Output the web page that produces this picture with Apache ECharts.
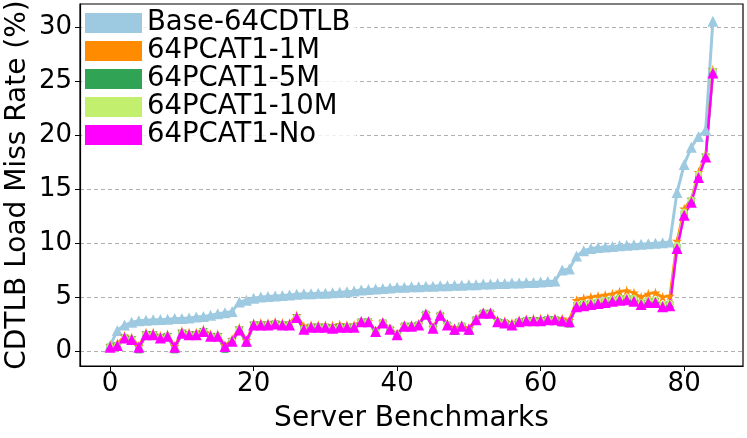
<!DOCTYPE html>
<html>
<head>
    <meta charset="utf-8">
    <title>CDTLB Load Miss Rate</title>
    <script src="https://cdn.jsdelivr.net/npm/echarts@6/dist/echarts.min.js"></script>
    <style>
        html, body { margin: 0; padding: 0; background: #fff; }
        #chart { width: 747px; height: 438px; }
    </style>
</head>
<body>
    <div id="chart"></div>
    <script>
        // series names (legend order)
        const names = ['Base-64CDTLB', '64PCAT1-1M', '64PCAT1-5M', '64PCAT1-10M', '64PCAT1-No'];

        // miss rate (%) per server benchmark, sorted
        const base = [
            0.5, 1.9, 2.4, 2.65, 2.8, 2.85, 2.9, 2.92, 2.95, 3.0,
            3.0, 3.05, 3.15, 3.2, 3.3, 3.45, 3.55, 3.65, 4.55, 4.7,
            4.9, 5.0, 5.05, 5.1, 5.15, 5.2, 5.25, 5.3, 5.3, 5.35,
            5.35, 5.4, 5.45, 5.5, 5.55, 5.65, 5.7, 5.75, 5.8, 5.85,
            5.9, 5.9, 5.95, 5.95, 6.0, 6.0, 6.05, 6.05, 6.1, 6.1,
            6.15, 6.15, 6.2, 6.2, 6.25, 6.25, 6.3, 6.3, 6.35, 6.35,
            6.4, 6.45, 6.5, 7.5, 7.6, 8.8, 9.3, 9.5, 9.6, 9.65,
            9.7, 9.75, 9.8, 9.85, 9.9, 9.95, 10.0, 10.05, 10.1, 14.7,
            17.3, 18.9, 19.9, 20.5, 30.6
        ];
        const pcat1M = [
            0.5, 0.7, 1.4, 1.25, 0.45, 1.7, 1.7, 1.4, 1.55, 0.45,
            1.85, 1.7, 1.7, 2.0, 1.55, 1.55, 0.5, 1.1, 2.15, 1.0,
            2.6, 2.6, 2.6, 2.7, 2.6, 2.6, 3.3, 2.3, 2.4, 2.4,
            2.4, 2.35, 2.45, 2.4, 2.4, 2.8, 2.75, 1.9, 2.7, 2.1,
            1.6, 2.4, 2.4, 2.5, 3.5, 2.2, 3.4, 2.5, 2.1, 2.4,
            2.1, 3.0, 3.6, 3.6, 2.85, 2.75, 2.6, 2.85, 2.95, 3.0,
            3.0, 3.05, 3.05, 3.0, 2.85, 4.7, 4.9, 5.0, 5.1, 5.2,
            5.3, 5.5, 5.6, 5.4, 5.0, 5.3, 5.4, 5.0, 5.1, 10.2,
            13.2, 14.1, 16.6, 18.2, 26.1
        ];
        const pcat5M = [
            0.35, 0.5, 1.2, 1.05, 0.1, 1.5, 1.5, 1.2, 1.35, 0.1,
            1.65, 1.5, 1.5, 1.8, 1.35, 1.35, 0.15, 0.9, 1.95, 0.7,
            2.4, 2.4, 2.4, 2.5, 2.4, 2.4, 3.1, 2.0, 2.2, 2.2,
            2.2, 2.1, 2.2, 2.2, 2.2, 2.7, 2.7, 1.75, 2.6, 2.0,
            1.5, 2.3, 2.3, 2.4, 3.4, 2.1, 3.3, 2.4, 1.8, 2.3,
            1.8, 2.9, 3.5, 3.5, 2.7, 2.6, 2.4, 2.7, 2.8, 2.8,
            2.8, 2.9, 2.9, 2.6, 2.5, 4.2, 4.3, 4.4, 4.5, 4.6,
            4.7, 4.8, 4.85, 4.8, 4.4, 4.6, 4.6, 4.2, 4.3, 9.6,
            12.7, 13.9, 16.2, 18.0, 25.9
        ];
        const pcat10M = [
            0.4, 0.55, 1.25, 1.1, 0.2, 1.55, 1.55, 1.25, 1.4, 0.2,
            1.7, 1.55, 1.55, 1.85, 1.4, 1.4, 0.25, 0.95, 2.0, 0.8,
            2.45, 2.45, 2.45, 2.55, 2.45, 2.45, 3.15, 2.05, 2.25, 2.25,
            2.25, 2.15, 2.25, 2.25, 2.25, 2.75, 2.75, 1.8, 2.65, 2.05,
            1.55, 2.35, 2.35, 2.45, 3.45, 2.15, 3.35, 2.45, 1.9, 2.35,
            1.9, 2.95, 3.55, 3.55, 2.75, 2.65, 2.45, 2.75, 2.85, 2.85,
            2.85, 2.95, 2.95, 2.7, 2.6, 4.3, 4.4, 4.5, 4.6, 4.7,
            4.8, 4.9, 4.95, 4.9, 4.5, 4.7, 4.7, 4.3, 4.4, 9.8,
            12.9, 14.0, 16.4, 18.1, 26.0
        ];
        const pcatNo = [
            0.35, 0.5, 1.2, 1.05, 0.35, 1.5, 1.5, 1.2, 1.35, 0.35,
            1.65, 1.5, 1.5, 1.8, 1.35, 1.35, 0.4, 0.9, 1.95, 0.9,
            2.4, 2.4, 2.4, 2.5, 2.4, 2.4, 3.1, 2.0, 2.2, 2.2,
            2.2, 2.1, 2.2, 2.2, 2.2, 2.7, 2.7, 1.8, 2.6, 2.0,
            1.5, 2.3, 2.3, 2.4, 3.4, 2.1, 3.3, 2.4, 2.0, 2.3,
            2.0, 2.9, 3.5, 3.5, 2.7, 2.6, 2.4, 2.7, 2.8, 2.8,
            2.8, 2.9, 2.9, 2.8, 2.7, 4.1, 4.2, 4.3, 4.4, 4.5,
            4.6, 4.7, 4.75, 4.6, 4.3, 4.5, 4.5, 4.1, 4.2, 9.5,
            12.6, 13.8, 16.1, 18.0, 25.8
        ];

        // tick labels
        const xTicks = [0, 20, 40, 60, 80];
        const yTicks = [0, 5, 10, 15, 20, 25, 30];

        const colors = ['#9ecae1', '#ff8c00', '#31a354', '#c2f06e', '#ff00ff'];

        // 5-point star, like matplotlib's '*'
        const star = 'path://M50 0 L61.2 34.6 L97.6 34.5 L68.1 55.9 L79.4 90.5 L50 69 L20.6 90.5 L31.9 55.9 L2.4 34.5 L38.8 34.6 Z';

        const FONT = 'DejaVu Sans';

        function toPoints(arr) {
            return arr.map((v, i) => [i, v]);
        }

        function lineSeries(idx, values, symbol, size, width) {
            return {
                name: names[idx],
                type: 'line',
                data: toPoints(values),
                symbol: symbol,
                symbolSize: size,
                showAllSymbol: true,
                lineStyle: { color: colors[idx], width: width },
                itemStyle: { color: colors[idx], borderWidth: 0 },
                emphasis: { disabled: true }
            };
        }

        const chart = echarts.init(document.getElementById('chart'), null, { renderer: 'canvas' });

        chart.setOption({
            animation: false,
            textStyle: { fontFamily: FONT },
            grid: {
                left: 80, right: 4, top: 4, bottom: 72,
                outerBoundsMode: 'none',
                containLabel: false,
                show: true, borderColor: '#000', borderWidth: 1.2
            },
            legend: {
                orient: 'vertical',
                left: 82, top: 6,
                padding: [3, 6, 3, 3],
                itemWidth: 57, itemHeight: 20, itemGap: 0,
                icon: 'rect',
                backgroundColor: 'rgba(255,255,255,0.8)',
                textStyle: { fontSize: 27.5, lineHeight: 27.5, color: '#000', fontFamily: FONT },
                data: names
            },
            xAxis: {
                type: 'value',
                min: -4.2, max: 88.2,
                name: 'Server Benchmarks',
                nameLocation: 'middle',
                nameMoveOverlap: false,
                nameGap: 39,
                nameTextStyle: { fontSize: 28, color: '#000', fontFamily: FONT },
                axisLine: { onZero: false, lineStyle: { color: '#000', width: 1.2 } },
                axisTick: { customValues: xTicks, length: 5, lineStyle: { color: '#000' } },
                axisLabel: { customValues: xTicks, fontSize: 26, color: '#000', margin: 5 },
                splitLine: { show: false }
            },
            yAxis: {
                type: 'value',
                min: -1.4, max: 32.2,
                name: 'CDTLB Load Miss Rate (%)',
                nameLocation: 'middle',
                nameMoveOverlap: false,
                nameGap: 48,
                nameTextStyle: { fontSize: 28, color: '#000', fontFamily: FONT },
                axisLine: { show: true, onZero: false, lineStyle: { color: '#000', width: 1.2 } },
                axisTick: { show: true, customValues: yTicks, length: 5, lineStyle: { color: '#000' } },
                axisLabel: { customValues: yTicks, fontSize: 26, color: '#000', margin: 8 },
                splitLine: {
                    show: true,
                    lineStyle: { color: '#b0b0b0', type: [4, 3], width: 1 }
                }
            },
            series: [
                lineSeries(0, base, 'triangle', 11, 3),
                lineSeries(1, pcat1M, star, 10, 2.5),
                lineSeries(2, pcat5M, 'rect', 7, 2.5),
                lineSeries(3, pcat10M, 'circle', 7, 2.5),
                lineSeries(4, pcatNo, 'triangle', 11, 2.5)
            ]
        });
    </script>
</body>
</html>
